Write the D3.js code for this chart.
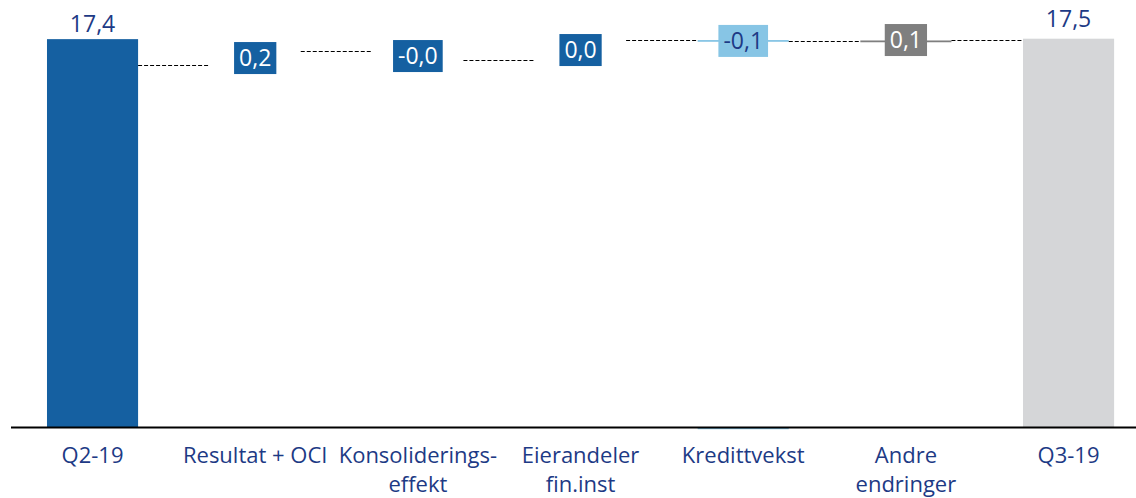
<!DOCTYPE html>
<html>
<head>
<meta charset="utf-8">
<script src="https://cdn.jsdelivr.net/npm/d3@7"></script>
<style>
  body { margin: 0; background: #fff; }
  text { font-family: "Open Sans", sans-serif; }
</style>
</head>
<body>
<div class="chart"></div>
<script>
// categories, each label split in lines
var categories = ["Q2-19", "Resultat + OCI", "Konsoliderings-\neffekt", "Eierandeler\nfin.inst",
                  "Kredittvekst", "Andre\nendringer", "Q3-19"];
// value shown in the labels
var values = [17.44, 0.2, -0.02, 0.02, -0.1, 0.1, 17.46];
// kind of bar: total, up, down, other
var kinds = ["total", "up", "up", "up", "down", "other", "end"];
// visible bar extents (null = not drawn)
var barLow  = [0, null, null, null, 17.32, 17.30, 0];
var barHigh = [17.44, null, null, null, 17.40, 17.38, 17.46];
// small part of Kredittvekst drawn below the axis
var belowAxis = [null, null, null, null, -0.1, null, null];
// level where each label sits
var labelLevels = [18.12, 16.59, 16.68, 16.95, 17.36, 17.40, 18.37];
// dashed connector levels between neighbouring bars
var connectorLevels = [16.28, 16.91, 16.50, 17.40, 17.37, 17.40];

var width = 1136, height = 498;

var barColor = {total: "#1560a1", up: "#1560a1", down: "#87c5e5", other: "#7f7f7f", end: "#d5d6d8"};
var labelText = {total: "#1d3a85", up: "#ffffff", down: "#1d3a85", other: "#ffffff", end: "#1d3a85"};
var navy = "#1d3a85";

var fmt = function(v) {
  return (v < 0 ? "-" : "") + Math.abs(v).toFixed(1).replace(".", ",");
};

var data = categories.map(function(c, i) {
  return {name: c, value: values[i], kind: kinds[i], low: barLow[i], high: barHigh[i],
          below: belowAxis[i], level: labelLevels[i]};
});

var x = d3.scaleBand()
    .domain(categories)
    .range([11.2, 1149.9])
    .paddingInner(0.44)
    .paddingOuter(0.22);

var y = d3.scaleLinear()
    .domain([0, 19.2])
    .range([427, 0]);

var svg = d3.select(".chart").append("svg")
    .attr("width", width)
    .attr("height", height);

// bars
svg.selectAll(".bar")
    .data(data.filter(function(d) { return d.low !== null; }))
  .enter().append("rect")
    .attr("class", "bar")
    .attr("x", function(d) { return x(d.name); })
    .attr("width", x.bandwidth())
    .attr("y", function(d) { return y(d.high); })
    .attr("height", function(d) { return y(d.low) - y(d.high); })
    .style("fill", function(d) { return barColor[d.kind]; });

svg.selectAll(".neg")
    .data(data.filter(function(d) { return d.below !== null; }))
  .enter().append("rect")
    .attr("class", "neg")
    .attr("x", function(d) { return x(d.name); })
    .attr("width", x.bandwidth())
    .attr("y", y(0))
    .attr("height", function(d) { return y(d.below) - y(0); })
    .style("fill", function(d) { return barColor[d.kind]; });

// connectors
svg.selectAll(".connector")
    .data(connectorLevels)
  .enter().append("line")
    .attr("class", "connector")
    .attr("x1", function(d, i) { return x(categories[i]) + x.bandwidth(); })
    .attr("x2", function(d, i) { return x(categories[i + 1]); })
    .attr("y1", function(d) { return Math.round(y(d)) + 0.5; })
    .attr("y2", function(d) { return Math.round(y(d)) + 0.5; })
    .style("stroke", "#000")
    .style("stroke-width", 1)
    .style("stroke-dasharray", "4,2");

// axis line
svg.append("line")
    .attr("x1", 11)
    .attr("x2", width)
    .attr("y1", y(0) + 0.5)
    .attr("y2", y(0) + 0.5)
    .style("stroke", "#000")
    .style("stroke-width", 2.2);

// value labels
var labels = svg.selectAll(".label")
    .data(data)
  .enter().append("g")
    .attr("class", "label")
    .attr("transform", function(d) {
      return "translate(" + (x(d.name) + x.bandwidth() / 2) + "," + y(d.level) + ")";
    });

labels.append("rect");

labels.append("text")
    .attr("text-anchor", "middle")
    .attr("dy", "0.36em")
    .style("font-size", "23px")
    .style("fill", function(d) { return labelText[d.kind]; })
    .text(function(d) { return fmt(d.value); });

labels.each(function(d) {
  if (d.kind === "total" || d.kind === "end") return;
  var bb = d3.select(this).select("text").node().getBBox();
  d3.select(this).select("rect")
      .attr("x", bb.x - 5)
      .attr("width", bb.width + 10)
      .attr("y", -16)
      .attr("height", 32)
      .style("fill", barColor[d.kind]);
});

// category labels
var cat = svg.selectAll(".cat")
    .data(categories)
  .enter().append("text")
    .attr("class", "cat")
    .attr("text-anchor", "middle")
    .attr("x", function(d) { return x(d) + x.bandwidth() / 2; })
    .attr("y", y(0) + 36)
    .style("font-size", "22px")
    .style("fill", navy);

cat.selectAll("tspan")
    .data(function(d) { return d.split("\n"); })
  .enter().append("tspan")
    .attr("x", function() { return d3.select(this.parentNode).attr("x"); })
    .attr("dy", function(d, i) { return i ? 28.5 : 0; })
    .text(function(d) { return d; });
</script>
</body>
</html>
